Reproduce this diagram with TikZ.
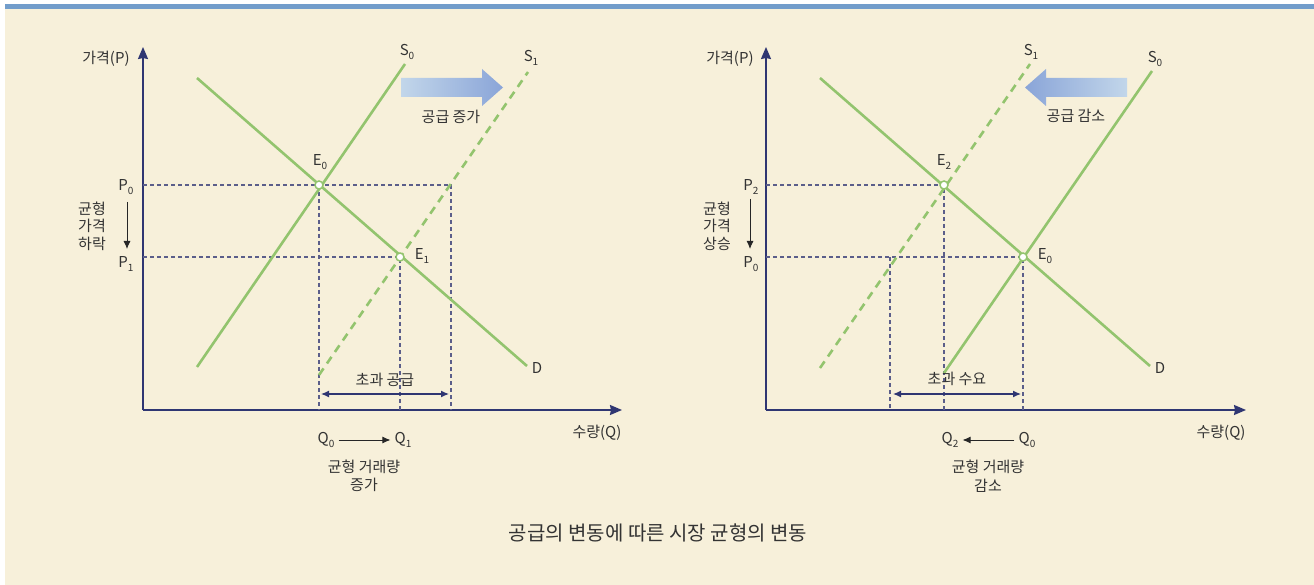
\documentclass[tikz,border=0pt]{standalone}
\usepackage{fontspec}
\setmainfont{Noto Sans CJK KR}
\usetikzlibrary{arrows.meta,calc}
\definecolor{bgcream}{HTML}{F7F0DA}
\definecolor{barblue}{HTML}{729DCB}
\definecolor{axisnavy}{HTML}{2F3672}
\definecolor{curvegreen}{HTML}{93C46E}
\definecolor{guidegrey}{HTML}{5B5E8A}
\definecolor{txtgrey}{HTML}{333333}
\definecolor{arrlight}{HTML}{C2D6EA}
\definecolor{arrdark}{HTML}{8AA5D8}
\newcommand\sbs[1]{\raisebox{-0.45ex}{\fontsize{10}{10}\selectfont #1}}
\tikzset{
  axisline/.style={draw=axisnavy, line width=1.6pt, -{Stealth[length=12pt,width=10pt,inset=1pt]}},
  curve/.style={draw=curvegreen, line width=2.6pt},
  dcurve/.style={draw=curvegreen, line width=2.6pt, dash pattern=on 8pt off 6pt},
  guide/.style={draw=guidegrey, line width=1.2pt, dash pattern=on 4pt off 3pt},
  eqpt/.style={circle, draw=curvegreen, fill=white, line width=1.5pt, minimum size=8pt, inner sep=0pt},
  lbl/.style={text=txtgrey, font=\fontsize{15}{17}\selectfont, inner sep=0pt},
  small/.style={draw=black!85, line width=0.9pt, -{Latex[length=8pt,width=7pt]}},
  both/.style={draw=axisnavy, line width=1.2pt, {Latex[length=8pt,width=7pt]}-{Latex[length=8pt,width=7pt]}},
}
\begin{document}
\begin{tikzpicture}[x=1pt,y=-1pt]
\useasboundingbox (0,0) rectangle (1314,585);
\fill[white] (0,0) rectangle (1314,585);
\fill[bgcream] (5,9) rectangle (1314,585);
\fill[barblue] (5,4) rectangle (1314,9.5);

% ================= LEFT GRAPH =================
\coordinate (LO) at (143,410);
\coordinate (LYt) at (143,47);
\coordinate (LXt) at (622,410);
\draw[axisline] (LO) -- (LYt);
\draw[axisline] (LO) -- (LXt);
\node[lbl] (lp) at (106,59) {가격(P)};
\node[lbl] (lq) at (597,433) {수량(Q)};

% guide lines
\coordinate (lE0) at (319,185);
\coordinate (lE1) at (400,257);
\coordinate (lA) at (451,185);
\coordinate (lP0) at (143,185);
\coordinate (lP1) at (143,257);
\draw[guide] (lP0) -- (lA) -- (451,410);
\draw[guide] (lE0) -- (319,410);
\draw[guide] (lP1) -- (lE1) -- (400,410);

% curves
\coordinate (lDa) at (197,78);
\coordinate (lDb) at (527,366);
\coordinate (lS0a) at (197,367);
\coordinate (lS0b) at (405,64);
\coordinate (lS1a) at (319,375);
\coordinate (lS1b) at (528,72);
\draw[curve] (lDa) -- (lDb);
\draw[curve] (lS0a) -- (lS0b);
\draw[dcurve] (lS1a) -- (lS1b);
\node[eqpt] (le0) at (lE0) {};
\node[eqpt] (le1) at (lE1) {};

\node[lbl] (ls0) at (407,52) {S\sbs{0}};
\node[lbl] (ls1) at (531,58) {S\sbs{1}};
\node[lbl] (ld) at (537,368) {D};
\node[lbl] (lel0) at (320,162) {E\sbs{0}};
\node[lbl] (lel1) at (422,256) {E\sbs{1}};

% big arrow
\shade[left color=arrlight, right color=arrdark] (401,78) -- (482,78) -- (482,69) -- (503,87.5) -- (482,106) -- (482,97) -- (401,97) -- cycle;
\node[lbl] (linc) at (451,117) {공급 증가};

% price labels
\node[lbl] (lp0) at (126,187) {P\sbs{0}};
\node[lbl] (lp1) at (126,264) {P\sbs{1}};
\draw[small] (127,202) -- (127,249);
\node[lbl, align=center, font=\fontsize{15}{17.5}\selectfont] (lpd) at (92,226) {균형\\가격\\하락};

% excess supply
\coordinate (lxa) at (321,394);
\coordinate (lxb) at (449,394);
\draw[both] (lxa) -- (lxb);
\node[lbl] (lexs) at (385,380) {초과 공급};

% quantity labels
\node[lbl] (lq0) at (326,440) {Q\sbs{0}};
\node[lbl] (lq1) at (403,440) {Q\sbs{1}};
\draw[small] ($(lq0.east)+(4,0)$) -- ($(lq1.west)+(-4,0)$);
\node[lbl, align=center, font=\fontsize{15}{18.5}\selectfont] (lqd) at (364,476) {균형 거래량\\증가};

% ================= RIGHT GRAPH =================
\coordinate (RO) at (766,410);
\coordinate (RYt) at (766,47);
\coordinate (RXt) at (1246,410);
\draw[axisline] (RO) -- (RYt);
\draw[axisline] (RO) -- (RXt);
\node[lbl] (rp) at (730,59) {가격(P)};
\node[lbl] (rq) at (1221,433) {수량(Q)};

\coordinate (rE2) at (944,185);
\coordinate (rE0) at (1023,257);
\coordinate (rP2) at (766,185);
\coordinate (rP0) at (766,257);
\draw[guide] (rP2) -- (rE2) -- (944,410);
\draw[guide] (rP0) -- (rE0) -- (1023,410);
\draw[guide] (890,257) -- (890,410);

\coordinate (rDa) at (820,78);
\coordinate (rDb) at (1150,366);
\coordinate (rS0a) at (944,373);
\coordinate (rS0b) at (1152,71);
\coordinate (rS1a) at (820,368);
\coordinate (rS1b) at (1030,64);
\draw[curve] (rDa) -- (rDb);
\draw[curve] (rS0a) -- (rS0b);
\draw[dcurve] (rS1a) -- (rS1b);
\node[eqpt] (re2) at (rE2) {};
\node[eqpt] (re0) at (rE0) {};

\node[lbl] (rs0) at (1155,59) {S\sbs{0}};
\node[lbl] (rs1) at (1031,52) {S\sbs{1}};
\node[lbl] (rd) at (1160,368) {D};
\node[lbl] (rel2) at (944,162) {E\sbs{2}};
\node[lbl] (rel0) at (1045,256) {E\sbs{0}};

\shade[left color=arrdark, right color=arrlight] (1127,78) -- (1046,78) -- (1046,69) -- (1025,87.5) -- (1046,106) -- (1046,97) -- (1127,97) -- cycle;
\node[lbl] (rdec) at (1076,116) {공급 감소};

\node[lbl] (rp2) at (751,187) {P\sbs{2}};
\node[lbl] (rp0) at (751,264) {P\sbs{0}};
\draw[small] (750,199) -- (750,249);
\node[lbl, align=center, font=\fontsize{15}{17.5}\selectfont] (rpd) at (717,226) {균형\\가격\\상승};

\coordinate (rxa) at (893,394);
\coordinate (rxb) at (1021,394);
\draw[both] (rxa) -- (rxb);
\node[lbl] (rexd) at (957,379) {초과 수요};

\node[lbl] (rq2) at (950,440) {Q\sbs{2}};
\node[lbl] (rq0) at (1027,440) {Q\sbs{0}};
\draw[small] ($(rq0.west)+(-4,0)$) -- ($(rq2.east)+(4,0)$);
\node[lbl, align=center, font=\fontsize{15}{18.5}\selectfont] (rqd) at (988,476) {균형 거래량\\감소};

% caption
\node[lbl, font=\fontsize{20}{22}\selectfont] (cap) at (658,533) {공급의 변동에 따른 시장 균형의 변동};
\end{tikzpicture}
\end{document}
